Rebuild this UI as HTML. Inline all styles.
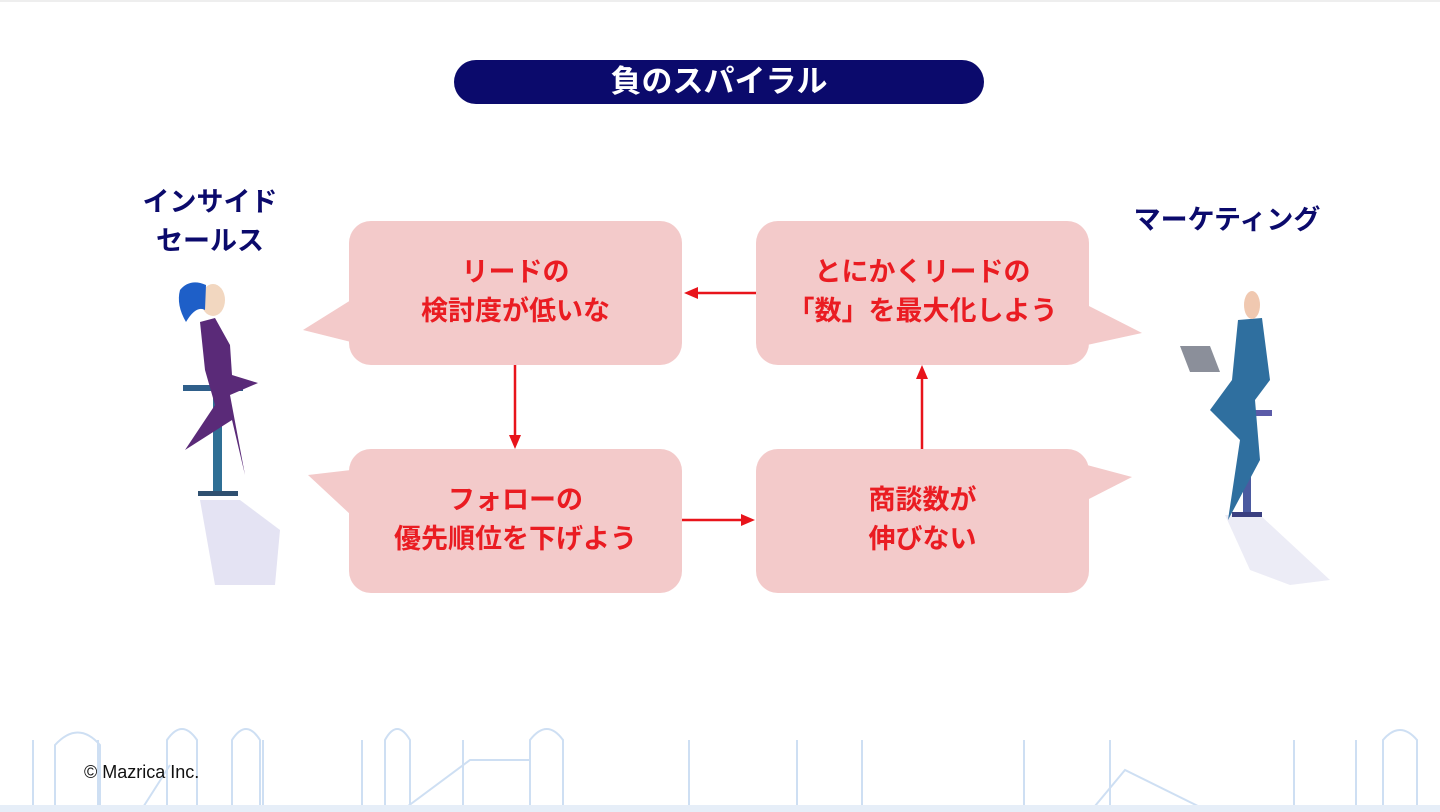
<!DOCTYPE html>
<html><head><meta charset="utf-8"><style>
body{margin:0;width:1440px;height:812px;background:#fff;position:relative;overflow:hidden;font-family:"Liberation Sans","Noto Sans CJK JP",sans-serif}
.t{position:absolute;font-weight:bold}
.box{position:absolute;width:333px;height:144px;background:#f3caca;border-radius:22px;color:#ea1c22;font-size:27px;font-weight:bold;text-align:center;line-height:39px;box-sizing:border-box;padding-top:32px}
</style></head><body>
<div style="position:absolute;left:0;top:0;width:1440px;height:2px;background:#eee"></div>
<div class="t" style="left:454px;top:60px;width:530px;height:44px;background:#0b0a6c;border-radius:22px;color:#fff;font-size:31px;text-align:center;line-height:44px">負のスパイラル</div>
<div class="t" style="left:125px;top:183px;width:170px;text-align:center;color:#0b0a6c;font-size:27px;line-height:39px">インサイド<br>セールス</div>
<div class="t" style="left:1110px;top:201px;width:234px;text-align:center;color:#0b0a6c;font-size:27px;line-height:39px">マーケティング</div>
<svg style="position:absolute;left:0;top:0" width="1440" height="812">
<g fill="#f3caca">
<polygon points="351,300 303,330 351,342"/>
<polygon points="351,470 308,475 351,515"/>
<polygon points="1087,305 1142,333 1087,345"/>
<polygon points="1087,465 1132,477 1087,500"/>
</g>
<g stroke="#e8141b" stroke-width="2.5" fill="#e8141b">
<line x1="756" y1="293" x2="696" y2="293"/><polygon points="684,293 698,287 698,299" stroke="none"/>
<line x1="515" y1="365" x2="515" y2="436"/><polygon points="515,449 509,435 521,435" stroke="none"/>
<line x1="682" y1="520" x2="742" y2="520"/><polygon points="755,520 741,514 741,526" stroke="none"/>
<line x1="922" y1="449" x2="922" y2="378"/><polygon points="922,365 916,379 928,379" stroke="none"/>
</g>
<polygon points="200,500 240,500 280,530 275,585 215,585" fill="#e4e3f3"/>
<rect x="183" y="385" width="60" height="6" fill="#2f5f8a"/>
<rect x="213" y="388" width="9" height="105" fill="#2f6f95"/>
<rect x="198" y="491" width="40" height="5" fill="#2f5070"/>
<path d="M200,322 L215,318 L230,345 L232,375 L258,383 L230,395 L245,475 L232,420 L185,450 L215,405 L205,370 Z" fill="#5a2a78"/>
<ellipse cx="213" cy="300" rx="12" ry="16" fill="#f2d7c0"/>
<path d="M180,290 Q190,278 206,285 L205,310 Q196,305 186,322 Q176,305 180,290Z" fill="#1e5fc8"/>
<polygon points="1225,515 1260,515 1330,580 1290,585 1250,570" fill="#ececf6"/>
<rect x="1232" y="410" width="40" height="6" fill="#5b5ba8"/>
<rect x="1243" y="414" width="8" height="100" fill="#4b5aa0"/>
<rect x="1232" y="512" width="30" height="5" fill="#3a3f80"/>
<path d="M1238,320 L1262,318 L1270,380 L1255,400 L1260,460 L1228,520 L1240,440 L1210,410 L1232,380Z" fill="#2f6f9f"/>
<ellipse cx="1252" cy="305" rx="8" ry="14" fill="#f0c8b0"/>
<polygon points="1180,346 1210,346 1220,372 1190,372" fill="#8b8f9a"/>
<g stroke="#c9dcf2" stroke-width="2" fill="none" opacity="0.9">
<line x1="33" y1="740" x2="33" y2="812"/><line x1="98" y1="740" x2="98" y2="812"/><line x1="263" y1="740" x2="263" y2="812"/><line x1="362" y1="740" x2="362" y2="812"/><line x1="463" y1="740" x2="463" y2="812"/><line x1="689" y1="740" x2="689" y2="812"/><line x1="797" y1="740" x2="797" y2="812"/><line x1="862" y1="740" x2="862" y2="812"/><line x1="1024" y1="740" x2="1024" y2="812"/><line x1="1110" y1="740" x2="1110" y2="812"/><line x1="1294" y1="740" x2="1294" y2="812"/><line x1="1356" y1="740" x2="1356" y2="812"/>
<path d="M55,812 V745 Q78,720 100,745 V812"/><path d="M232,812 V740 Q246,718 260,740 V812"/>
<path d="M167,812 V740 Q182,718 197,740 V812"/><path d="M385,812 V740 Q397,718 410,740 V812"/>
<path d="M530,812 V740 Q547,718 563,740 V812"/><path d="M1383,812 V740 Q1400,720 1417,740 V812"/>
<path d="M400,812 L470,760 L530,760"/><path d="M1090,812 L1125,770 L1210,812"/>
<path d="M140,812 L170,765"/>
</g>
<rect x="0" y="805" width="1440" height="7" fill="#e6eef8"/>
</svg>
<div class="box" style="left:349px;top:221px">リードの<br>検討度が低いな</div>
<div class="box" style="left:756px;top:221px">とにかくリードの<br>「数」を最大化しよう</div>
<div class="box" style="left:349px;top:449px">フォローの<br>優先順位を下げよう</div>
<div class="box" style="left:756px;top:449px">商談数が<br>伸びない</div>
<div style="position:absolute;left:84px;top:762px;font-size:18px;color:#111">© Mazrica Inc.</div>
</body></html>
